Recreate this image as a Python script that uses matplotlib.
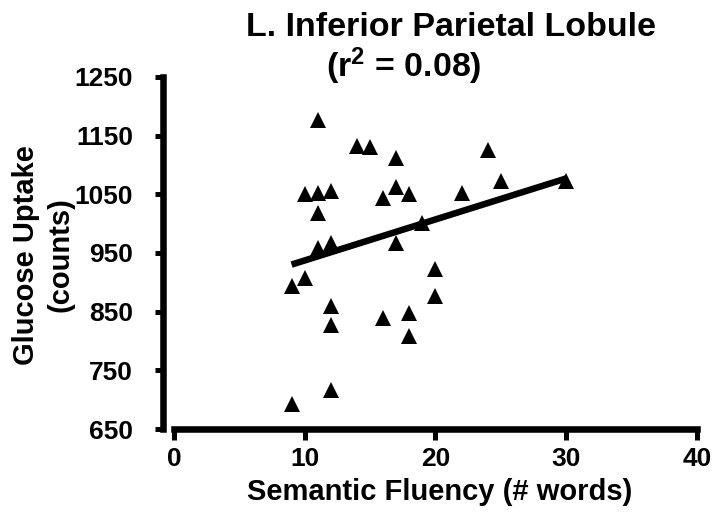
import numpy as np
import matplotlib
matplotlib.use("Agg")
import matplotlib.pyplot as plt

plt.rcParams["font.family"] = ["Liberation Sans", "DejaVu Sans"]
plt.rcParams["font.weight"] = "bold"
plt.rcParams["mathtext.fontset"] = "custom"
plt.rcParams["mathtext.rm"] = "Liberation Sans:bold"
plt.rcParams["mathtext.it"] = "Liberation Sans:bold"

# semantic fluency (# words) vs glucose uptake (counts)
fluency = [11, 14, 15, 17, 10, 11, 12, 16, 17, 18,
           11, 11, 12, 17, 19, 9, 10, 12, 12, 16,
           18, 18, 12, 9, 24, 25, 22, 30, 20, 20]
uptake = [1177, 1132, 1130, 1112, 1051, 1052, 1055, 1044, 1062, 1050,
          1018, 959, 967, 967, 1001, 894, 907, 860, 827, 840,
          848, 808, 717, 692, 1126, 1072, 1053, 1072, 922, 877]

x_ticks = [0, 10, 20, 30, 40]
y_ticks = [650, 750, 850, 950, 1050, 1150, 1250]

x = np.array(fluency)
y = np.array(uptake)
slope, intercept = np.polyfit(x, y, 1)
fit_x = np.array([x.min(), x.max()])

fig = plt.figure(figsize=(7.15, 5.19), dpi=100)
ax = fig.add_axes([163 / 715, (519 - 429) / 519, 537.7 / 715, 352 / 519])

ax.plot(x, y, linestyle="none", marker="^", markersize=11, color="black",
        markeredgewidth=0, clip_on=False)
ax.plot(fit_x, slope * fit_x + intercept, color="black", linewidth=4.7,
        solid_capstyle="butt")

ax.set_xlim(-0.84, 40.3)
ax.set_ylim(650, 1250)
ax.set_xticks(x_ticks)
ax.set_yticks(y_ticks)

for side in ("top", "right"):
    ax.spines[side].set_visible(False)
ax.spines["bottom"].set_bounds(0, 40)
ax.spines["left"].set_bounds(650, 1250)
for side in ("bottom", "left"):
    ax.spines[side].set_linewidth(4.7)
    ax.spines[side].set_capstyle("projecting")

ax.tick_params(axis="x", direction="out", length=8, width=3.6, pad=5,
               labelsize=19)
ax.tick_params(axis="y", direction="out", length=5.5, width=3.6, pad=16,
               labelsize=19)
for lab in ax.get_xticklabels() + ax.get_yticklabels():
    lab.set_fontweight("bold")

fig.text(451.5 / 715, 1 - 36 / 519, "L. Inferior Parietal Lobule",
         ha="center", va="baseline", fontsize=24.5, fontweight="bold")
fig.text(404 / 715, 1 - 77.5 / 519, r"(r$^{2}$ = 0.08)",
         ha="center", va="baseline", fontsize=24.5, fontweight="bold")

fig.text(440 / 715, 19 / 519, "Semantic Fluency (# words)",
         ha="center", va="baseline", fontsize=21, fontweight="bold")
fig.text(43 / 715, 1 - 255 / 519, "Glucose Uptake\n(counts)",
         ha="center", va="center", rotation=90, fontsize=21,
         fontweight="bold", multialignment="center", linespacing=1.3)

fig.savefig("out.png", dpi=100, facecolor="white")
